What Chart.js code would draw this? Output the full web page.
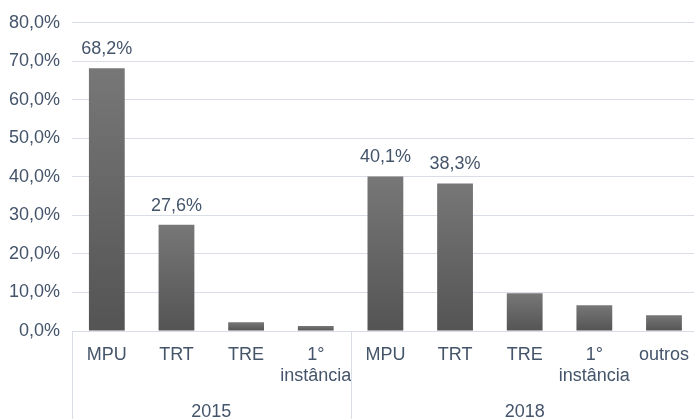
<!DOCTYPE html>
<html><head><meta charset="utf-8">
<script src="https://cdn.jsdelivr.net/npm/chart.js@4"></script>
<style>
html,body{margin:0;padding:0;background:#fff;overflow:hidden}
#wrap{width:694px;height:419px;overflow:hidden;position:relative;background:#fff}
#c{position:absolute;left:0;top:0;width:702px;height:419px}
</style></head>
<body><div id="wrap"><canvas id="c" width="702" height="419"></canvas></div>
<script>
const categories = ['MPU','TRT','TRE',['1°','instância'],'MPU','TRT','TRE',['1°','instância'],'outros'];
const groups = ['2015','2018'];
const groupSizes = [4,5];
const values = [68.2,27.6,2.3,1.3,40.1,38.3,9.8,6.7,4.1];
const showValueLabel = [true,true,false,false,true,true,false,false,false];
const yMin = 0, yMax = 80, yStep = 10;

const TEXT = '#44546A';
const GRID = '#D9DEE6';
const FONT = '"Liberation Sans", Arial, sans-serif';
const FS = 18;
const fmt = v => v.toFixed(1).replace('.', ',') + '%';

const extras = {
  id: 'extras',
  afterDraw(chart) {
    const ctx = chart.ctx, x = chart.scales.x, y = chart.scales.y;
    ctx.save();
    ctx.font = FS + 'px ' + FONT;
    ctx.fillStyle = TEXT;
    ctx.textAlign = 'center';
    ctx.textBaseline = 'middle';
    values.forEach((v, i) => {
      if (!showValueLabel[i]) return;
      ctx.fillText(fmt(v), x.getPixelForValue(i), y.getPixelForValue(v) - 19);
    });
    const base = y.getPixelForValue(0);
    const half = (x.getPixelForValue(1) - x.getPixelForValue(0)) / 2;
    ctx.strokeStyle = GRID;
    ctx.lineWidth = 1;
    let start = 0;
    const bounds = [x.getPixelForValue(0) - half];
    groupSizes.forEach(n => { start += n; bounds.push(x.getPixelForValue(start - 1) + half); });
    bounds.forEach(bx => {
      const px = Math.round(bx) + 0.5;
      ctx.beginPath(); ctx.moveTo(px, base); ctx.lineTo(px, chart.height); ctx.stroke();
    });
    ctx.fillStyle = TEXT;
    groups.forEach((g, k) => {
      ctx.fillText(g, (bounds[k] + bounds[k + 1]) / 2, 412);
    });
    ctx.restore();
  }
};

new Chart(document.getElementById('c'), {
  type: 'bar',
  data: {
    labels: categories,
    datasets: [{
      data: values,
      backgroundColor: (c) => {
        const chart = c.chart;
        if (!chart.chartArea || c.raw == null) return '#666666';
        const ys = chart.scales.y;
        const top = ys.getPixelForValue(c.raw), bot = ys.getPixelForValue(0);
        if (!isFinite(top) || !isFinite(bot) || top === bot) return '#666666';
        const g = chart.ctx.createLinearGradient(0, top, 0, bot);
        g.addColorStop(0, '#777777');
        g.addColorStop(1, '#545454');
        return g;
      },
      borderWidth: 0,
      categoryPercentage: 1,
      barPercentage: 0.514
    }]
  },
  options: {
    responsive: false,
    animation: false,
    devicePixelRatio: 1,
    layout: { padding: { top: 21, left: 0, right: 0, bottom: 0 } },
    plugins: { legend: { display: false }, tooltip: { enabled: false } },
    scales: {
      x: {
        grid: { display: false, drawTicks: false },
        border: { display: true, color: GRID, width: 1 },
        ticks: { color: TEXT, font: { family: FONT, size: FS, lineHeight: 1.2 }, padding: 13, maxRotation: 0, autoSkip: false },
        afterFit: s => { s.height = 88; }
      },
      y: {
        min: yMin, max: yMax,
        grid: { color: GRID, drawTicks: false, lineWidth: 1 },
        border: { display: false },
        ticks: { stepSize: yStep, color: TEXT, font: { family: FONT, size: FS }, padding: 12, callback: v => fmt(v) },
        afterFit: s => { s.width = 72; }
      }
    }
  },
  plugins: [extras]
});
</script>
</body></html>
